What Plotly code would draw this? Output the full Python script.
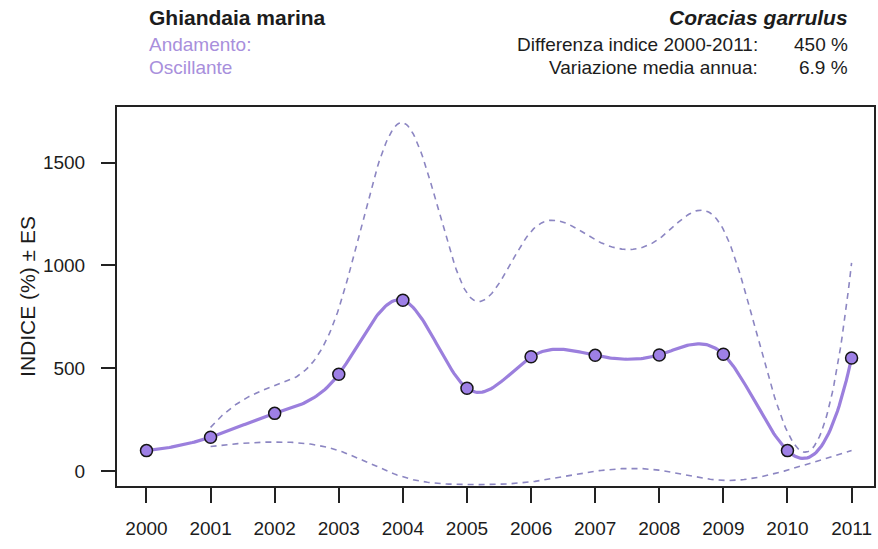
import numpy as np
import plotly.graph_objects as go

# Annual index (%) for Coracias garrulus, base year 2000 = 100
years = [2000, 2001, 2002, 2003, 2004, 2005, 2006, 2007, 2008, 2009, 2010, 2011]
indice = [100, 165, 281, 471, 831, 403, 556, 563, 565, 568, 100, 550]
# Index +/- standard error (no error for the base year)
es_years = [2001, 2002, 2003, 2004, 2005, 2006, 2007, 2008, 2009, 2010, 2011]
es_sup = [213, 415, 790, 1694, 865, 1165, 1125, 1130, 1175, 190, 1012]
es_inf = [120, 142, 100, -28, -65, -52, 0, 5, -45, 5, 100]

y_ticks = [0, 500, 1000, 1500]

PURPLE = "#9B7FDD"
DASH = "#8C86C2"
TXT = "#1c1c1c"
FONT = "Liberation Sans, Arial, sans-serif"


def fmm_spline(x, y, n=400):
    """Cubic interpolating spline with Forsythe-Malcolm-Moler end conditions."""
    x = np.asarray(x, float)
    y = np.asarray(y, float)
    m = len(x)
    nm1 = m - 1
    b = np.zeros(m); c = np.zeros(m); d = np.zeros(m)
    d[0] = x[1] - x[0]
    c[1] = (y[1] - y[0]) / d[0]
    for i in range(1, nm1):
        d[i] = x[i + 1] - x[i]
        b[i] = 2.0 * (d[i - 1] + d[i])
        c[i + 1] = (y[i + 1] - y[i]) / d[i]
        c[i] = c[i + 1] - c[i]
    b[0] = -d[0]
    b[nm1] = -d[m - 2]
    c[0] = c[nm1] = 0.0
    if m > 3:
        c[0] = c[2] / (x[3] - x[1]) - c[1] / (x[2] - x[0])
        c[nm1] = c[m - 2] / (x[nm1] - x[m - 3]) - c[m - 3] / (x[m - 2] - x[m - 4])
        c[0] = c[0] * d[0] * d[0] / (x[3] - x[0])
        c[nm1] = -c[nm1] * d[m - 2] * d[m - 2] / (x[nm1] - x[m - 4])
    for i in range(1, m):
        t = d[i - 1] / b[i - 1]
        b[i] = b[i] - t * d[i - 1]
        c[i] = c[i] - t * c[i - 1]
    c[nm1] = c[nm1] / b[nm1]
    for i in range(m - 2, -1, -1):
        c[i] = (c[i] - d[i] * c[i + 1]) / b[i]
    b[nm1] = (y[m - 1] - y[m - 2]) / d[m - 2] + d[m - 2] * (c[m - 2] + 2.0 * c[nm1])
    for i in range(nm1):
        b[i] = (y[i + 1] - y[i]) / d[i] - d[i] * (c[i + 1] + 2.0 * c[i])
        d[i] = (c[i + 1] - c[i]) / d[i]
        c[i] = 3.0 * c[i]
    c[nm1] = 3.0 * c[nm1]
    d[nm1] = d[m - 2]
    xs = np.linspace(x[0], x[-1], n)
    idx = np.clip(np.searchsorted(x, xs, side="right") - 1, 0, m - 2)
    dx = xs - x[idx]
    ys = y[idx] + dx * (b[idx] + dx * (c[idx] + dx * d[idx]))
    return xs, ys


fig = go.Figure()

for arr in (es_sup, es_inf):
    sx, sy = fmm_spline(es_years, arr)
    fig.add_trace(go.Scatter(x=sx, y=sy, mode="lines",
                             line=dict(color=DASH, width=1.6, dash="6px,5px"),
                             hoverinfo="skip"))

sx, sy = fmm_spline(years, indice)
fig.add_trace(go.Scatter(x=sx, y=sy, mode="lines",
                         line=dict(color=PURPLE, width=3.2), hoverinfo="skip"))
fig.add_trace(go.Scatter(x=years, y=indice, mode="markers",
                         marker=dict(size=12, color="#9E80E6",
                                     line=dict(color="#151515", width=1.5))))

axis_common = dict(showline=True, linecolor="#222222", linewidth=2, mirror=True,
                   ticks="outside", tickcolor="#222222", tickwidth=2,
                   showgrid=False, zeroline=False,
                   tickfont=dict(family=FONT, size=19, color=TXT))

fig.update_xaxes(range=[1999.54, 2011.35], tickvals=years, ticklen=15,
                 ticklabelstandoff=9, **axis_common)
fig.update_yaxes(range=[-72, 1770], tickvals=y_ticks, ticklen=14,
                 ticklabelstandoff=12,
                 title=dict(text="INDICE (%) ± ES", standoff=2,
                            font=dict(family=FONT, size=21, color=TXT)),
                 **axis_common)

ann = [
    dict(text="<b>Ghiandaia marina</b>", x=147, y=18, xanchor="left", size=21, color=TXT),
    dict(text="<b><i>Coracias garrulus</i></b>", x=852, y=18, xanchor="right", size=21, color=TXT),
    dict(text="Andamento:", x=147, y=45, xanchor="left", size=19, color="#A88FDC"),
    dict(text="Oscillante", x=147, y=67, xanchor="left", size=19, color="#A88FDC"),
    dict(text="Differenza indice 2000-2011:", x=762, y=45, xanchor="right", size=19, color=TXT),
    dict(text="Variazione media annua:", x=762, y=67, xanchor="right", size=19, color=TXT),
    dict(text="450 %", x=852, y=45, xanchor="right", size=19, color=TXT),
    dict(text="6.9 %", x=852, y=67, xanchor="right", size=19, color=TXT),
]
W, H = 878, 549
for a in ann:
    fig.add_annotation(text=a["text"], xref="paper", yref="paper",
                       x=(a["x"] - 117) / (876 - 117),
                       y=(486 - a["y"]) / (486 - 107),
                       xanchor=a["xanchor"], yanchor="middle", showarrow=False,
                       font=dict(family=FONT, size=a["size"], color=a["color"]))

fig.update_layout(width=W, height=H, showlegend=False,
                  margin=dict(l=117, r=W - 876, t=107, b=H - 486),
                  plot_bgcolor="white", paper_bgcolor="white")

fig.write_html("out.html")
